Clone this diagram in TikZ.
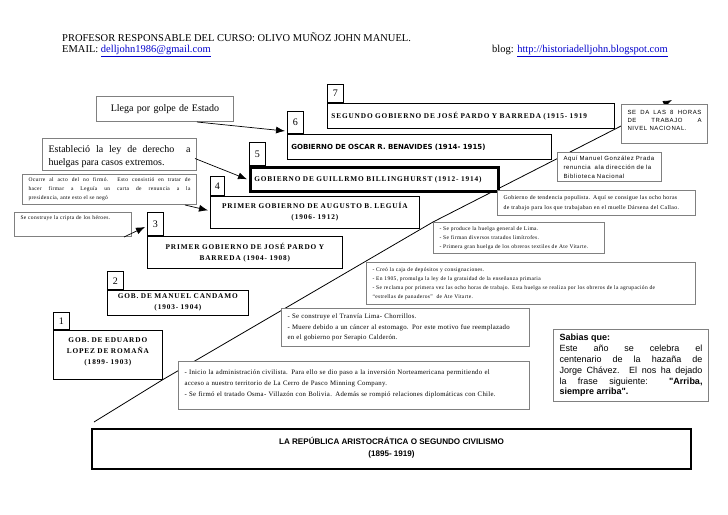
\documentclass[tikz,border=0pt]{standalone}
\usepackage{fontspec}
\setmainfont{Liberation Serif}
\newfontfamily\arialfont{Liberation Sans}
\newfontfamily\heavyfont{DejaVu Sans}
\usepackage{xcolor}
\usetikzlibrary{arrows.meta,positioning,calc,backgrounds}
\definecolor{linkBlue}{RGB}{0,0,204}
\definecolor{noteGray}{RGB}{128,128,128}
\newcommand{\weblink}[1]{\textcolor{linkBlue}{\underline{#1}}}
\newcommand{\spaced}[1]{\addfontfeature{LetterSpace=#1}}
% pushes the text of a box upwards
\newcommand{\lift}[1]{\rule[-#1]{0pt}{#1}}

\tikzset{
  govbox/.style={draw, fill=white, anchor=north west, inner xsep=4pt, inner ysep=0pt,
    line width=0.7pt, align=center,
    font=\fontsize{7.3}{11}\selectfont\bfseries\spaced{12}},
  tabbox/.style={draw, fill=white, anchor=south west, minimum width=16pt, inner sep=0pt,
    line width=0.6pt, font=\fontsize{10}{10}\selectfont},
  notebox/.style={draw=noteGray, line width=1pt, fill=white, anchor=north west,
    inner xsep=6pt, inner ysep=2pt, align=justify},
  smallnote/.style={notebox, font=\fontsize{5.5}{9}\selectfont\spaced{6}},
  pointer/.style={-{Latex[length=9pt,width=7pt]}, line width=0.7pt},
}

\begin{document}
\begin{tikzpicture}[x=1pt,y=-1pt]
\useasboundingbox (0,0) rectangle (728,514);

% header
\node[anchor=west, inner sep=0pt, font=\fontsize{10.5}{12}\selectfont] (prof) at (62,37)
  {PROFESOR RESPONSABLE DEL CURSO: OLIVO MUÑOZ JOHN MANUEL.};
\node[anchor=west, inner sep=0pt, font=\fontsize{10.5}{12}\selectfont] (mail) at (62,51)
  {EMAIL: \weblink{delljohn1986@gmail.com}};
\node[anchor=west, inner sep=0pt, font=\fontsize{10.5}{12}\selectfont] (blog) at (492,51)
  {blog: \weblink{http://historiadelljohn.blogspot.com}};

% governments, from 7 down to 1
\node[govbox, text width=279pt, minimum height=25pt, align=left] (segundo) at (327,103)
  {SEGUNDO GOBIERNO DE JOSÉ PARDO Y BARREDA (1915- 1919};
\node[govbox, text width=256pt, minimum height=25pt, align=left,
  font=\fontsize{7}{8}\heavyfont\bfseries] (oscar) at (287,134)
  {GOBIERNO DE OSCAR R. BENAVIDES (1914- 1915)};
\node[govbox, line width=2.5pt, text width=240pt, minimum height=24pt, align=left] (guillermo) at (249,166)
  {GOBIERNO DE GUILLRMO BILLINGHURST (1912- 1914)};
\node[govbox, text width=201pt, minimum height=32pt] (leguia) at (210,196)
  {PRIMER GOBIERNO DE AUGUSTO B. LEGUÍA\\(1906- 1912)\lift{2pt}};
\node[govbox, text width=187pt, minimum height=32pt] (pardo) at (147,236)
  {PRIMER GOBIERNO DE JOSÉ PARDO Y\\BARREDA (1904- 1908)};
\node[govbox, text width=133pt, minimum height=25pt] (candamo) at (107,290)
  {GOB. DE MANUEL CANDAMO\\(1903- 1904)};
\node[govbox, text width=101pt, minimum height=49pt] (eduardo) at (53,330)
  {GOB. DE EDUARDO\\LOPEZ DE ROMAÑA\\(1899- 1903)\lift{8pt}};

% number tabs
\node[tabbox, minimum height=18pt] (tab7) at (segundo.north west) {7};
\node[tabbox, minimum height=22pt] (tab6) at (oscar.north west) {6};
\node[tabbox, minimum height=23pt] (tab5) at (guillermo.north west) {5};
\node[tabbox, minimum height=19pt, minimum width=14pt] (tab4) at (leguia.north west) {4};
\node[tabbox, minimum height=23pt] (tab3) at (pardo.north west) {3};
\node[tabbox, minimum height=18pt] (tab2) at (candamo.north west) {2};
\node[tabbox, minimum height=17pt] (tab1) at (eduardo.north west) {1};

% notes
\node[notebox, text width=125pt, minimum height=25pt, align=center, font=\fontsize{10}{12}\selectfont] (llega) at (96,96)
  {Llega por golpe de Estado};
\node[notebox, text width=142pt, minimum height=32pt, font=\fontsize{10}{12.5}\selectfont] (estab) at (42,138)
  {\rule{0pt}{11.5pt}Estableció la ley de derecho~~a\linebreak huelgas para casos extremos.};
\node[smallnote, text width=162pt, minimum height=30pt] (ocurre) at (22,174)
  {Ocurre al acto del no firmó. Esto consistió en tratar de\linebreak hacer firmar a Leguía un carta de renuncia a la\linebreak presidencia, ante esto el se negó};
\node[smallnote, text width=105pt, minimum height=24pt, align=left] (cripta) at (14,212)
  {Se construye la cripta de los héroes.\lift{13pt}};
\node[notebox, text width=74pt, minimum height=39pt,
  font=\fontsize{6}{8}\arialfont\spaced{10}] (ochohoras) at (621,104)
  {SE DA LAS 8 HORAS\linebreak DE TRABAJO A\linebreak NIVEL NACIONAL.\lift{8pt}};
\node[notebox, text width=92pt, minimum height=29pt, align=left,
  font=\fontsize{6}{9}\arialfont\spaced{10}] (aqui) at (557,152)
  {Aquí Manuel González Prada\\renuncia~ ala dirección de la\\Biblioteca Nacional};
\node[smallnote, text width=186pt, minimum height=25pt, align=left,
  font=\fontsize{5.8}{9.5}\selectfont\spaced{6}] (populista) at (497,190)
  {Gobierno de tendencia populista. Aquí se consigue las ocho horas\\de trabajo para los que trabajaban en el muelle Dársena del Callao.};
\node[smallnote, text width=159pt, minimum height=31pt, align=left] (huelga) at (433,222)
  {- Se produce la huelga general de Lima.\\- Se firman diversos tratados limítrofes.\\- Primera gran huelga de los obreros textiles de Ate Vitarte.};
\node[smallnote, text width=317pt, minimum height=42pt, align=left] (caja) at (366,262)
  {- Creó la caja de depósitos y consignaciones.\\- En 1905, promulga la ley de la gratuidad de la enseñanza primaria\\- Se reclama por primera vez las ocho horas de trabajo. Esta huelga se realiza por los obreros de la agrupación de\\“estrellas de panaderos”~ de Ate Vitarte.};
\node[notebox, text width=236pt, minimum height=38pt, align=left,
  font=\fontsize{6.8}{10.5}\selectfont\spaced{4}] (tranvia) at (281,308)
  {- Se construye el Tranvía Lima- Chorrillos.\\- Muere debido a un cáncer al estomago. Por este motivo fue reemplazado\\en el gobierno por Serapio Calderón.};
\node[notebox, text width=339pt, minimum height=48pt, align=left,
  font=\fontsize{6.8}{11}\selectfont\spaced{4}] (inicio) at (178,361)
  {- Inicio la administración civilista. Para ello se dio paso a la inversión Norteamericana permitiendo el\\acceso a nuestro territorio de La Cerro de Pasco Minning Company.\\- Se firmó el tratado Osma- Villazón con Bolivia. Además se rompió relaciones diplomáticas con Chile.\lift{4pt}};
\node[notebox, text width=143pt, minimum height=72pt, font=\fontsize{9}{10.8}\arialfont] (sabias) at (553,329)
  {\textbf{Sabias que:}\\Este año se celebra el\linebreak centenario de la hazaña de\linebreak Jorge Chávez. El nos ha dejado\linebreak la frase siguiente: \textbf{"Arriba,\linebreak siempre arriba".}};

% title
\node[draw, line width=2pt, anchor=north west, inner sep=0pt, minimum width=599pt, minimum height=40pt,
  align=center, font=\fontsize{8.1}{12}\arialfont\bfseries] (title) at (91,428)
  {LA REPÚBLICA ARISTOCRÁTICA O SEGUNDO CIVILISMO\\(1895- 1919)\lift{4pt}};

% pointers from the notes
\draw[pointer] ($(llega.south)+(32,0)$) -- ($(oscar.north west)+(-2,-3)$);
\draw[pointer] ($(estab.east)+(-2,4)$) -- ($(guillermo.west)+(-2,0)$);
\draw[pointer] ($(ocurre.south east)+(-12,0)$) -- ($(leguia.west)+(-2,-2)$);
\draw[pointer] ($(cripta.south east)+(-8,0)$) -- ($(pardo.north west)+(-2,-9)$);

% the time line
\coordinate (tlstart) at (94,422);
\coordinate (tlend) at (672,100);
\begin{scope}[on background layer]
\draw[line width=0.8pt, -{Latex[length=9pt,width=7pt]}] (tlstart) -- (eduardo.south east)
  -- (huelga.north west) -- (tlend);
\end{scope}
\end{tikzpicture}
\end{document}
